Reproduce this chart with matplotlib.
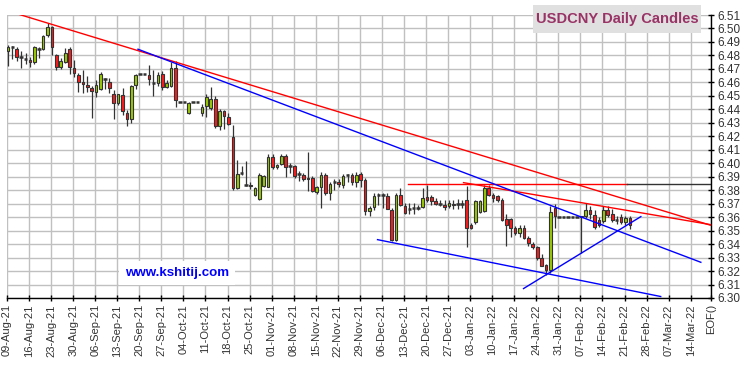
"""USDCNY daily candles with trend lines (kshitij style chart)."""
import numpy as np
import matplotlib
matplotlib.use("Agg")
import matplotlib.pyplot as plt
from matplotlib.patches import Rectangle

plt.rcParams["font.family"] = ["Liberation Sans", "DejaVu Sans"]

# ---- data: one candle per weekday starting Mon 09-Aug-21 ----
opens = [
    6.483, 6.486, 6.485, 6.479, 6.477, 6.4767, 6.475, 6.485, 6.485, 6.495,
    6.501, 6.480, 6.4713, 6.4754, 6.4846, 6.4705, 6.4656, 6.4606, 6.458, 6.4559,
    6.4532, 6.455, 6.4628, 6.4606, 6.4513, 6.4446, 6.4507, 6.4376, 6.4327, 6.458,
    6.4661, 6.4661, 6.4656, 6.4592, 6.4594, 6.4661, 6.4565, 6.4574, 6.471, 6.4453,
    6.4453, 6.4372, 6.4453, 6.4453, 6.4372, 6.4426, 6.4409, 6.4476, 6.4278, 6.4384,
    6.4342, 6.4194, 6.3816, 6.3927, 6.384, 6.3838, 6.3767, 6.3735, 6.3828, 6.3824,
    6.4046, 6.3972, 6.3996, 6.4056, 6.398, 6.3981, 6.392, 6.3915, 6.389, 6.389,
    6.3784, 6.3824, 6.3915, 6.3779, 6.3858, 6.3862, 6.3841, 6.3915, 6.3915, 6.3858,
    6.3922, 6.3873, 6.3643, 6.3676, 6.3767, 6.3767, 6.3754, 6.3656, 6.3433, 6.3767,
    6.3685, 6.366, 6.3665, 6.3667, 6.3676, 6.375, 6.3752, 6.3717, 6.37, 6.3693,
    6.368, 6.3695, 6.3695, 6.3695, 6.3724, 6.3544, 6.3564, 6.364, 6.3643, 6.3816,
    6.3767, 6.3754, 6.373, 6.3589, 6.3587, 6.352, 6.3483, 6.352, 6.3446, 6.3404,
    6.3379, 6.3298, 6.3248, 6.3211, 6.3668, 6.3601, 6.3601, 6.3601, 6.3601, 6.3601,
    6.3605, 6.3611, 6.3656, 6.3615, 6.358, 6.3575, 6.3655, 6.3625, 6.358, 6.360,
    6.3565, 6.359,
]
highs = [
    6.488, 6.487, 6.486, 6.483, 6.482, 6.479, 6.487, 6.486, 6.495, 6.504,
    6.502, 6.481, 6.4784, 6.4853, 6.4864, 6.4764, 6.4667, 6.469, 6.465, 6.4575,
    6.4615, 6.4675, 6.4635, 6.4636, 6.4545, 6.4513, 6.4559, 6.4393, 6.4578, 6.4665,
    6.4661, 6.4661, 6.473, 6.469, 6.4675, 6.4685, 6.4615, 6.4752, 6.4755, 6.4453,
    6.4453, 6.4458, 6.4453, 6.4453, 6.4436, 6.4516, 6.4569, 6.450, 6.440, 6.4396,
    6.4376, 6.4285, 6.4026, 6.398, 6.4013, 6.386, 6.3825, 6.393, 6.3915, 6.407,
    6.407, 6.3995, 6.4065, 6.4065, 6.400, 6.3985, 6.3945, 6.393, 6.4087, 6.3905,
    6.383, 6.3935, 6.393, 6.386, 6.388, 6.388, 6.392, 6.392, 6.393, 6.3935,
    6.3935, 6.389, 6.3685, 6.378, 6.3778, 6.3778, 6.3778, 6.3667, 6.3778, 6.3815,
    6.3705, 6.3705, 6.3705, 6.369, 6.3815, 6.3835, 6.3765, 6.3742, 6.3725, 6.3725,
    6.3725, 6.3725, 6.3735, 6.3725, 6.3828, 6.3557, 6.373, 6.373, 6.3835, 6.3835,
    6.378, 6.3765, 6.3745, 6.362, 6.3595, 6.3535, 6.3545, 6.3545, 6.3458, 6.3415,
    6.3385, 6.3325, 6.3255, 6.368, 6.3695, 6.3601, 6.3601, 6.3601, 6.3601, 6.3601,
    6.3612, 6.3705, 6.368, 6.3655, 6.360, 6.368, 6.368, 6.366, 6.361, 6.3625,
    6.3605, 6.361,
]
lows = [
    6.472, 6.477, 6.476, 6.471, 6.474, 6.4717, 6.474, 6.478, 6.484, 6.494,
    6.4805, 6.4695, 6.4698, 6.4745, 6.4665, 6.4639, 6.4532, 6.4523, 6.4525, 6.4335,
    6.4489, 6.454, 6.455, 6.4523, 6.4325, 6.443, 6.4356, 6.428, 6.4298, 6.455,
    6.4661, 6.4661, 6.458, 6.450, 6.457, 6.4545, 6.4555, 6.4565, 6.442, 6.4453,
    6.4453, 6.4367, 6.4453, 6.4453, 6.435, 6.4342, 6.4395, 6.426, 6.425, 6.4253,
    6.4285, 6.3805, 6.381, 6.391, 6.3828, 6.381, 6.376, 6.3725, 6.382, 6.382,
    6.3955, 6.3955, 6.399, 6.390, 6.393, 6.389, 6.387, 6.3865, 6.3791, 6.3785,
    6.377, 6.3668, 6.3765, 6.373, 6.380, 6.382, 6.3815, 6.386, 6.384, 6.3825,
    6.382, 6.3613, 6.3605, 6.3655, 6.369, 6.3665, 6.366, 6.3425, 6.342, 6.368,
    6.3623, 6.362, 6.362, 6.365, 6.3665, 6.371, 6.369, 6.369, 6.3685, 6.3655,
    6.367, 6.366, 6.366, 6.367, 6.338, 6.3515, 6.355, 6.363, 6.3635, 6.3755,
    6.371, 6.371, 6.3575, 6.3384, 6.345, 6.347, 6.3455, 6.344, 6.3385, 6.3365,
    6.3285, 6.3235, 6.3174, 6.3187, 6.352, 6.3601, 6.3601, 6.3601, 6.3601, 6.3601,
    6.3335, 6.3595, 6.3585, 6.3515, 6.353, 6.356, 6.360, 6.3565, 6.355, 6.355,
    6.3545, 6.3515,
]
closes = [
    6.486, 6.486, 6.479, 6.479, 6.477, 6.475, 6.486, 6.485, 6.4945, 6.501,
    6.4865, 6.4713, 6.4757, 6.4816, 6.4713, 6.4668, 6.4606, 6.4589, 6.4565, 6.4535,
    6.4581, 6.4663, 6.4628, 6.4557, 6.4446, 6.4513, 6.4384, 6.4327, 6.4574, 6.4656,
    6.4661, 6.4661, 6.4624, 6.4592, 6.4656, 6.4565, 6.4599, 6.4705, 6.447, 6.4453,
    6.4453, 6.445, 6.4453, 6.4453, 6.4416, 6.449, 6.4476, 6.4273, 6.4384, 6.4352,
    6.4293, 6.3816, 6.3922, 6.3927, 6.384, 6.3833, 6.3816, 6.3915, 6.3902, 6.4046,
    6.3972, 6.3989, 6.4056, 6.3972, 6.398, 6.3907, 6.392, 6.3883, 6.3883, 6.3791,
    6.3824, 6.3915, 6.3779, 6.3848, 6.3858, 6.3845, 6.3907, 6.3915, 6.3858, 6.3915,
    6.3878, 6.3643, 6.3668, 6.3759, 6.3767, 6.3767, 6.3661, 6.3433, 6.3767, 6.3693,
    6.3631, 6.366, 6.3665, 6.3667, 6.3742, 6.3725, 6.3717, 6.3698, 6.37, 6.3676,
    6.3705, 6.3688, 6.3695, 6.3695, 6.352, 6.352, 6.3717, 6.3719, 6.3816, 6.3767,
    6.3742, 6.373, 6.3581, 6.3544, 6.352, 6.3483, 6.352, 6.3446, 6.3409, 6.3379,
    6.3298, 6.3241, 6.3211, 6.3636, 6.3611, 6.3601, 6.3601, 6.3601, 6.3601, 6.3601,
    6.3598, 6.3656, 6.3625, 6.3524, 6.3545, 6.3655, 6.3615, 6.358, 6.358, 6.3565,
    6.3595, 6.3545,
]

week_labels = [
    "09-Aug-21", "16-Aug-21", "23-Aug-21", "30-Aug-21", "06-Sep-21", "13-Sep-21",
    "20-Sep-21", "27-Sep-21", "04-Oct-21", "11-Oct-21", "18-Oct-21", "25-Oct-21",
    "01-Nov-21", "08-Nov-21", "15-Nov-21", "22-Nov-21", "29-Nov-21", "06-Dec-21",
    "13-Dec-21", "20-Dec-21", "27-Dec-21", "03-Jan-22", "10-Jan-22", "17-Jan-22",
    "24-Jan-22", "31-Jan-22", "07-Feb-22", "14-Feb-22", "21-Feb-22", "28-Feb-22",
    "07-Mar-22", "14-Mar-22",
]
end_label = "EOF()"

# trend lines: (x in weekday index, price)
red_top = ([2.7, 159.6], [6.5105, 6.3539])
red_inner = ([103.5, 159.6], [6.3856, 6.3544])
red_flat = ([90.8, 140.5], [6.3848, 6.3848])
black_flat = ([140.5, 159.6], [6.3848, 6.3848])
blue_top = ([29.7, 157.3], [6.4846, 6.3265])
blue_low = ([84.0, 148.2], [6.3433, 6.3011])
blue_rise = ([117.1, 143.7], [6.3070, 6.3604])

o = np.array(opens)
h = np.array(highs)
l = np.array(lows)
c = np.array(closes)
x = np.arange(len(o)) + 0.2

fig = plt.figure(figsize=(7.5, 3.66), dpi=100)
ax = fig.add_axes([7 / 750, 68 / 366, 704 / 750, 283 / 366])

# grid
xt = list(np.arange(len(week_labels)) * 5) + [159.6]
ax.set_xticks(xt)
ax.set_xticklabels(week_labels + [end_label], rotation=90, fontsize=8, color="#333333")
yt = np.round(np.arange(6.30, 6.5101, 0.01), 2)
ax.set_yticks(yt)
ax.set_yticklabels([f"{v:.2f}" for v in yt], fontsize=8.5, color="#333333")
ax.set_xlim(0, 159.6)
ax.set_ylim(6.30, 6.51)
ax.grid(True, color="#c0c0c0", lw=1.0)
ax.set_axisbelow(True)

ax.yaxis.tick_right()
ax.tick_params(axis="both", direction="inout", length=5, width=1, color="black", pad=2)
for s in ("left", "top"):
    ax.spines[s].set_visible(False)
for s in ("right", "bottom"):
    ax.spines[s].set_color("black")
    ax.spines[s].set_linewidth(1.0)

# candles
ax.vlines(x, l, h, color="#333333", lw=0.9, zorder=3)
up = (c - o) > 0.0002
dn = (o - c) > 0.0002
flat = ~(up | dn)
ax.bar(x[up], (c - o)[up], bottom=o[up], width=0.6, color="#99cc00",
       edgecolor="#333333", lw=0.8, zorder=4)
ax.bar(x[dn], (o - c)[dn], bottom=c[dn], width=0.6, color="#ff1a1a",
       edgecolor="#333333", lw=0.8, zorder=4)
ax.hlines(c[flat], x[flat] - 0.4, x[flat] + 0.4, color="#333333", lw=1.8, zorder=4)

# trend lines
for (lx, ly), col in [(red_top, "red"), (red_inner, "red"), (red_flat, "red"),
                      (black_flat, "#333333"), (blue_top, "blue"),
                      (blue_low, "blue"), (blue_rise, "blue")]:
    ax.plot(lx, ly, color=col, lw=1.0, zorder=5)

ax.text(0.2415, 0.088, "www.kshitij.com", transform=ax.transAxes, ha="center",
        va="center", color="#0000ff", fontsize=9.6, fontweight="bold", zorder=6,
        bbox=dict(facecolor="white", edgecolor="none", pad=4))

# title box
fig.patches.append(Rectangle((533 / 750, 333 / 366), 168 / 750, 28 / 366,
                             transform=fig.transFigure, facecolor="#e0e0e0",
                             edgecolor="none", zorder=5))
fig.text(617 / 750, 347 / 366, "USDCNY Daily Candles", ha="center", va="center",
         fontsize=10.6, fontweight="bold", color="#993366", zorder=6)

fig.savefig("out.png", dpi=100, facecolor="white")
